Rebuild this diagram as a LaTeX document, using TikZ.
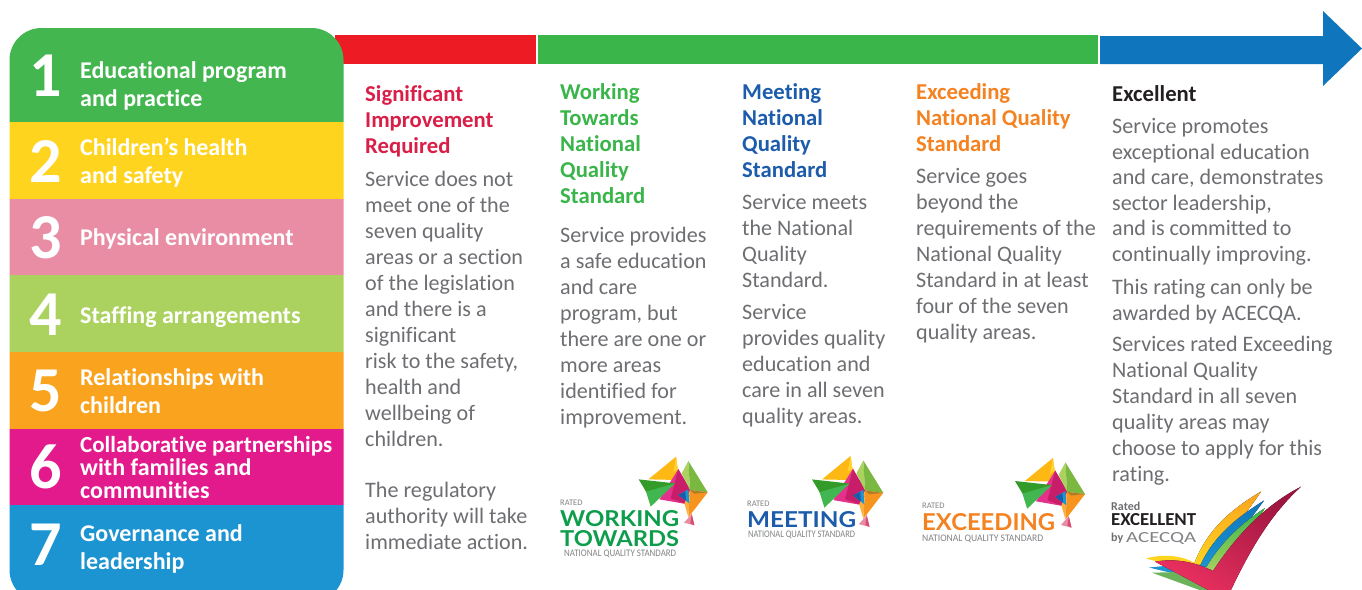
\documentclass[tikz,border=0pt]{standalone}
\usepackage{fontspec}
\usepackage{graphicx}
\setmainfont[Ligatures=NoCommon]{Carlito}
\newfontfamily\logofont{Lato}
\newfontfamily\logosans[Ligatures=NoCommon]{Carlito}
\definecolor{barred}{HTML}{ED1C24}
\definecolor{bargreen}{HTML}{3AB54A}
\definecolor{barblue}{HTML}{0F75BC}
\definecolor{bandA}{HTML}{44B64F}
\definecolor{bandB}{HTML}{FFD41F}
\definecolor{bandC}{HTML}{E98DA5}
\definecolor{bandD}{HTML}{ABD25F}
\definecolor{bandE}{HTML}{FAA31E}
\definecolor{bandF}{HTML}{E21A8C}
\definecolor{bandG}{HTML}{1C94D2}
\definecolor{tred}{HTML}{D91E48}
\definecolor{tgreen}{HTML}{39B54A}
\definecolor{tblue}{HTML}{1C5CAB}
\definecolor{torange}{HTML}{F58220}
\definecolor{tdark}{HTML}{231F20}
\definecolor{tgrey}{HTML}{6D6E71}
\definecolor{logogrey}{HTML}{808285}
\definecolor{logogreen}{HTML}{0E9D4B}
\definecolor{tickbright}{HTML}{EA3060}
\definecolor{tickdark}{HTML}{9E163F}
\definecolor{feather}{HTML}{6DB35C}
\newcommand{\fitw}[2]{\resizebox{#1pt}{!}{#2}}
\newcommand{\fitwh}[3]{\resizebox{#1pt}{#2pt}{#3}}
\newcommand{\auslogo}[3]{%
 \begin{scope}[shift={(#1,#2)},scale=#3]
  \fill[color={rgb,255:red,253;green,184;blue,19}] (29,68)--(112,0)--(122,70)--cycle;
  \fill[color={rgb,255:red,255;green,212;blue,50}] (112,0)--(104,45)--(120,37)--(122,70)--cycle;
  \fill[color={rgb,255:red,228;green,50;blue,140}] (62,128)--(119,37)--(142,142)--cycle;
  \fill[color={rgb,255:red,200;green,30;blue,105}] (119,37)--(96,125)--(142,142)--(159,105)--cycle;
  \fill[color={rgb,255:red,51;green,155;blue,40}] (0,68)--(109,80)--(25,110)--cycle;
  \fill[color={rgb,255:red,66;green,182;blue,80}] (36,150)--(22,105)--(109,80)--cycle;
  \fill[color={rgb,255:red,171;green,210;blue,95}] (149,13)--(129,50)--(154,100)--cycle;
  \fill[color={rgb,255:red,122;green,184;blue,66}] (149,13)--(154,100)--(207,107)--cycle;
  \fill[color={rgb,255:red,247;green,148;blue,29}] (154,100)--(207,107)--(149,182)--cycle;
  \fill[color={rgb,255:red,251;green,176;blue,64}] (154,100)--(137,140)--(149,182)--cycle;
  \fill[color={rgb,255:red,175;green,125;blue,40}] (154,100)--(207,107)--(166,111)--cycle;
  \fill[color={rgb,255:red,28;green,148;blue,210}] (119,115)--(149,98)--(152,140)--cycle;
  \fill[color={rgb,255:red,27;green,92;blue,168}] (119,115)--(140,104)--(142,132)--cycle;
  \fill[color={rgb,255:red,233;green,141;blue,165}] (136,198)--(159,172)--(167,206)--cycle;
  \fill[color={rgb,255:red,215;green,75;blue,110}] (159,172)--(155,200)--(167,206)--cycle;
 \end{scope}}
\tikzset{
 bandnum/.style={font=\fontsize{64}{64}\selectfont\bfseries,text=white,anchor=base,inner sep=0},
 bandlabel/.style={font=\fontsize{24}{28}\selectfont\bfseries,text=white,anchor=north west,inner sep=0,align=left,execute at begin node=\strut},
 bandlabeltight/.style={font=\fontsize{24}{23}\selectfont\bfseries,text=white,anchor=north west,inner sep=0,align=left,execute at begin node=\strut},
 heading/.style={font=\fontsize{22.7}{26}\selectfont\bfseries,anchor=north west,inner sep=0,align=left,execute at begin node=\strut},
 body/.style={font=\fontsize{22.1}{26}\selectfont,text=tgrey,anchor=north west,inner sep=0,align=left,execute at begin node=\strut},
 bodytight/.style={body,font=\fontsize{22.1}{25.6}\selectfont},
 logotext/.style={inner sep=0,anchor=base west,font=\logofont\bfseries},
 logosmall/.style={inner sep=0,anchor=base west,font=\logosans,text=logogrey},
}
\begin{document}
\begin{tikzpicture}[x=1pt,y=-1pt]
\useasboundingbox (0,0) rectangle (1362,589);
% progress bars
\fill[barred] (335,35) rectangle (536,64);
\fill[bargreen] (538,35) rectangle (1098,64);
\fill[barblue] (1100,36)--(1323,36)--(1323,11)--(1362,48.5)--(1323,86)--(1323,64)--(1100,64)--cycle;
% panel
\begin{scope}
 \clip (0,0) rectangle (1362,589);
 \clip[rounded corners=32pt] (9.5,28) rectangle (343.5,602);
 \fill[bandA] (9,28) rectangle (344,122);
 \fill[bandB] (9,122) rectangle (344,199);
 \fill[bandC] (9,199) rectangle (344,275);
 \fill[bandD] (9,275) rectangle (344,352);
 \fill[bandE] (9,352) rectangle (344,429);
 \fill[bandF] (9,429) rectangle (344,505);
 \fill[bandG] (9,505) rectangle (344,602);
\end{scope}
\node[bandnum] (n1) at (46,96) {1};
\node[bandnum] (n2) at (46,182) {2};
\node[bandnum] (n3) at (46,258) {3};
\node[bandnum] (n4) at (46,335) {4};
\node[bandnum] (n5) at (46,411) {5};
\node[bandnum] (n6) at (46,488) {6};
\node[bandnum] (n7) at (46,565) {7};
\node[bandlabel] (l1) at (80,61.4) {Educational program\\and practice};
\node[bandlabel] (l2) at (80,137.4) {Children’s health\\and safety};
\node[bandlabel] (l3) at (80,225.4) {Physical environment};
\node[bandlabel] (l4) at (80,303.4) {Staffing arrangements};
\node[bandlabel] (l5) at (80,368.4) {Relationships with\\children};
\node[bandlabeltight] (l6) at (80,435.9) {\fitw{252}{Collaborative partnerships}\\with families and\\communities};
\node[bandlabel] (l7) at (80,524.4) {Governance and\\leadership};
% column 1
\node[heading,text=tred] (h1) at (365,85.8) {Significant\\Improvement\\Required};
\node[body] (b1a) at (365,170.8) {Service does not\\meet one of the\\seven quality\\areas or a section\\of the legislation\\and there is a\\significant\\risk to the safety,\\health and\\wellbeing of\\children.};
\node[body] (b1b) at (365,481.8) {The regulatory\\authority will take\\immediate action.};
% column 2
\node[heading,text=tgreen] (h2) at (560,83.8) {Working\\Towards\\National\\Quality\\Standard};
\node[body] (b2) at (560,226.8) {Service provides\\a safe education\\and care\\program, but\\there are one or\\more areas\\identified for\\improvement.};
% column 3
\node[heading,text=tblue] (h3) at (742,83.8) {Meeting\\National\\Quality\\Standard};
\node[body] (b3a) at (742,193.8) {Service meets\\the National\\Quality\\Standard.};
\node[body] (b3b) at (742,303.8) {Service\\provides quality\\education and\\care in all seven\\quality areas.};
% column 4
\node[heading,text=torange] (h4) at (916,83.8) {Exceeding\\National Quality\\Standard};
\node[body] (b4) at (916,167.8) {Service goes\\beyond the\\requirements of the\\National Quality\\Standard in at least\\four of the seven\\quality areas.};
% column 5
\node[heading,text=tdark] (h5) at (1112,82.8) {Excellent};
\node[bodytight] (b5a) at (1112,118.1) {Service promotes\\exceptional education\\and care, demonstrates\\sector leadership,\\and is committed to\\continually improving.};
\node[body] (b5b) at (1112,278.8) {This rating can only be\\awarded by ACECQA.};
\node[body] (b5c) at (1112,335.8) {Services rated Exceeding\\National Quality\\Standard in all seven\\quality areas may\\choose to apply for this\\rating.};
% logos
\auslogo{638.7}{456.7}{0.3333}
\node[logosmall,font=\logosans\fontsize{8.5}{9}\selectfont] (r1) at (560,505) {RATED};
\node[logotext,text=logogreen] (w1) at (560,526.5) {\fitwh{119}{16}{WORKING}};
\node[logotext,text=logogreen] (w2) at (560,546) {\fitwh{119}{16}{TOWARDS}};
\node[logosmall] (q1) at (564,556) {\fitwh{112}{6.5}{NATIONAL QUALITY STANDARD}};
\auslogo{812}{456}{0.3444}
\node[logosmall,font=\logosans\fontsize{8.5}{9}\selectfont] (r2) at (747,506) {RATED};
\node[logotext,text=tblue] (w3) at (747,527) {\fitwh{109}{16}{MEETING}};
\node[logosmall] (q2) at (748,537.5) {\fitwh{107}{6.5}{NATIONAL QUALITY STANDARD}};
\auslogo{1015}{458}{0.3383}
\node[logosmall,font=\logosans\fontsize{8.5}{9}\selectfont] (r3) at (922,508) {RATED};
\node[logotext,text=torange] (w4) at (922,530) {\fitwh{133}{17}{EXCEEDING}};
\node[logosmall] (q3) at (922,541) {\fitwh{121}{6.5}{NATIONAL QUALITY STANDARD}};
% excellent logo
\node[logosmall,font=\logosans\bfseries\fontsize{12}{12}\selectfont,text=tgrey] (r4) at (1111,510) {Rated};
\node[logotext,font=\logosans\bfseries,text=tdark] (w5) at (1111,525.5) {\fitwh{85}{12}{EXCELLENT}};
\node[logosmall,font=\logosans\bfseries\fontsize{12}{12}\selectfont,text=tgrey] (r5) at (1111,541) {by};
\node[logosmall] (w6) at (1126,542.5) {\fitwh{70}{10}{ACECQA}};
\begin{scope}
 \clip (1100,480) rectangle (1362,589);
 \fill[bottom color=bandB,top color=bandE] (1194,564) .. controls (1207,530) and (1230,510) .. (1261,491.5) .. controls (1248,512) and (1226,535) .. (1210,566) -- cycle;
 \fill[bottom color=bandG,top color=barblue] (1200,566) .. controls (1214,535) and (1238,517) .. (1264,500.5) .. controls (1252,517) and (1234,540) .. (1216,568) -- cycle;
 \fill[bottom color=bandD,top color=bargreen] (1206,568) .. controls (1220,543) and (1243,522) .. (1265,508) .. controls (1255,524) and (1240,548) .. (1225,575) -- cycle;
 \fill[color=bandB] (1146,558.5) .. controls (1165,553) and (1185,556) .. (1198,565) -- (1170,565) -- cycle;
 \fill[color=bandG] (1149,567.5) -- (1175,565) -- (1180,575) -- cycle;
 \fill[color=feather] (1152,572.7) -- (1180,572) -- (1215,592) -- (1205,592) -- cycle;
 \fill[bottom color=tickbright,top color=tickdark,shading angle=-35] (1155,561.7) .. controls (1175,558) and (1195,562) .. (1213,571) .. controls (1235,537) and (1265,505) .. (1301,486.7) .. controls (1270,515) and (1250,550) .. (1230,592) -- (1212,592) .. controls (1195,583) and (1175,572) .. (1155,561.7) -- cycle;
\end{scope}
\end{tikzpicture}
\end{document}
